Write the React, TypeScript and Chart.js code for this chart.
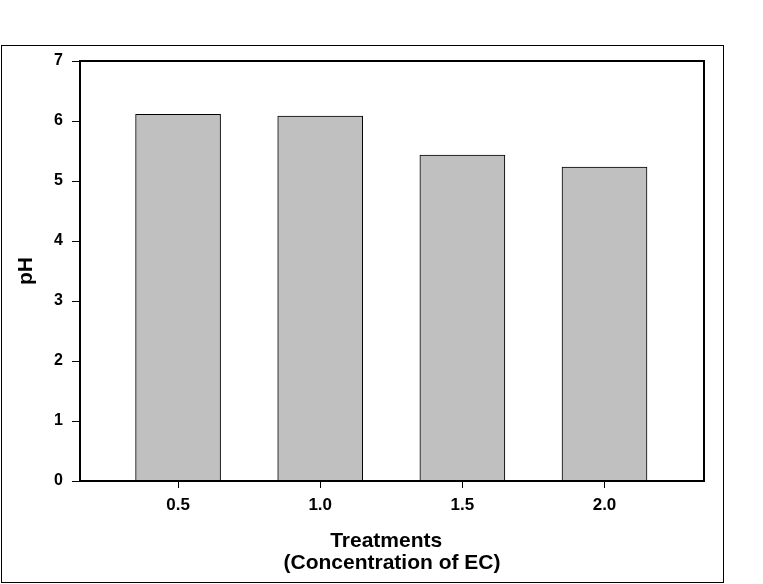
import React, { useEffect, useRef } from "react";
import { Chart, registerables } from "chart.js";

Chart.register(...registerables);

const treatments = [0.5, 1.0, 1.5, 2.0];
const phValues = [6.11, 6.08, 5.43, 5.23];
const yTicks = [0, 1, 2, 3, 4, 5, 6, 7];

const FONT = "'Liberation Sans', Arial, sans-serif";

const framePlugin = {
  id: "frame",
  afterDraw(chart: any) {
    const { ctx, chartArea } = chart;
    ctx.save();
    ctx.strokeStyle = "#000";
    ctx.lineWidth = 2;
    ctx.strokeRect(chartArea.left, chartArea.top, chartArea.right - chartArea.left, chartArea.bottom - chartArea.top);
    ctx.lineWidth = 1;
    ctx.strokeRect(1.5, 45.5, 722, 537);
    ctx.restore();
  },
};

export default function App() {
  const ref = useRef<HTMLCanvasElement | null>(null);
  useEffect(() => {
    if (!ref.current) return;
    const chart = new Chart(ref.current, {
      type: "bar",
      data: {
        datasets: [
          {
            data: treatments.map((t, i) => ({ x: t, y: phValues[i] })),
            backgroundColor: "#c0c0c0",
            borderColor: "#000",
            borderWidth: 1,
            barThickness: 85,
          } as any,
        ],
      },
      options: {
        animation: false,
        responsive: false,
        layout: { padding: { top: 61, right: 59, left: 0, bottom: 0 } },
        plugins: { legend: { display: false }, tooltip: { enabled: false } },
        scales: {
          x: {
            type: "linear",
            offset: false,
            min: 0.155,
            max: 2.35,
            afterBuildTicks: (scale: any) => {
              scale.ticks = treatments.map((v) => ({ value: v }));
            },
            afterFit: (scale: any) => {
              scale.height = 103;
            },
            ticks: {
              callback: (v: any) => Number(v).toFixed(1),
              color: "#000",
              font: { family: FONT, size: 17, weight: "bold" },
              padding: 7,
              maxRotation: 0,
            },
            grid: { offset: false, drawOnChartArea: false, drawTicks: true, tickLength: 7, tickColor: "#000", tickWidth: 1 },
            border: { display: true, color: "#000", width: 2 },
            title: {
              display: true,
              text: ["Treatments  ", "(Concentration of EC)"],
              color: "#000",
              font: { family: FONT, size: 21, weight: "bold", lineHeight: 22 / 21 },
              padding: { top: 0, bottom: 10 },
            },
          },
          y: {
            min: 0,
            max: 7,
            afterBuildTicks: (scale: any) => {
              scale.ticks = yTicks.map((v) => ({ value: v }));
            },
            afterFit: (scale: any) => {
              scale.width = 80;
            },
            ticks: {
              color: "#000",
              font: { family: FONT, size: 16, weight: "bold" },
              padding: 9,
            },
            grid: { drawOnChartArea: false, drawTicks: true, tickLength: 8, tickColor: "#000", tickWidth: 1 },
            border: { display: true, color: "#000", width: 2 },
            title: {
              display: true,
              text: "pH",
              color: "#000",
              font: { family: FONT, size: 21, weight: "bold", lineHeight: 22 / 21 },
              padding: { top: 15, bottom: 0 },
            },
          },
        },
      } as any,
      plugins: [framePlugin],
    });
    return () => chart.destroy();
  }, []);
  return (
    <div style={{ position: "absolute", left: 0, top: 0, width: 763, height: 584, background: "#fff" }}>
      <canvas ref={ref} width={763} height={584} />
    </div>
  );
}
